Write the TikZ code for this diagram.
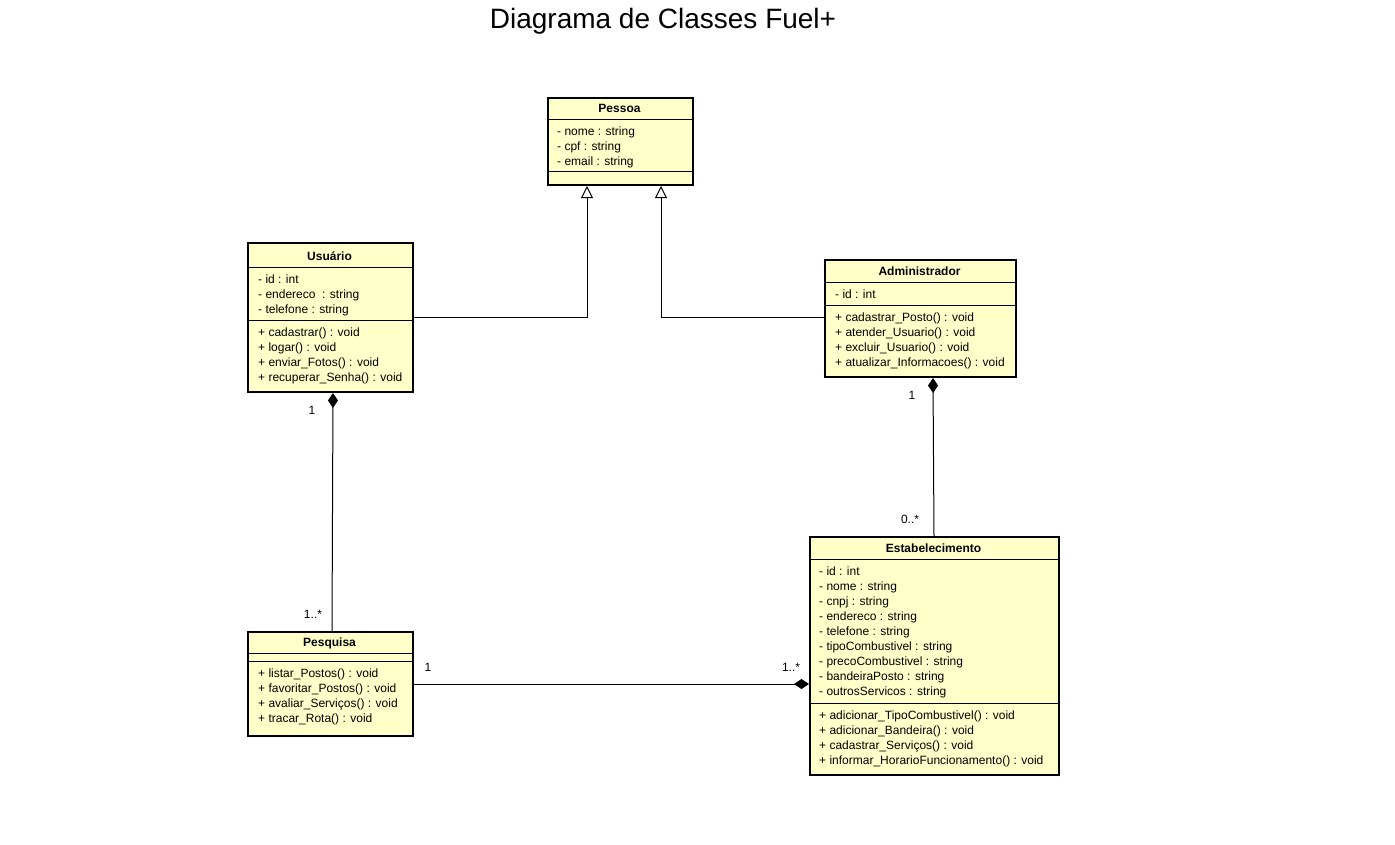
\documentclass[tikz,border=0pt]{standalone}
\usepackage{fontspec}
\setmainfont{Liberation Sans}
\usetikzlibrary{arrows.meta}
\definecolor{umlfill}{HTML}{FFFFCA}
\newcommand\umllines[4]{%
  \foreach [count=\i] \t in {#4} \node[attr] (#1\i) at (#2,{#3+15.1*(\i-1)}) {\t};}
\begin{document}
\begin{tikzpicture}[x=1pt,y=-1pt,
  umlbox/.style={draw=black, line width=2pt, fill=umlfill, rectangle, anchor=north west, inner sep=0pt},
  attr/.style={anchor=base west, inner sep=0pt, font=\fontsize{12}{14}\selectfont},
  ttl/.style={anchor=base, inner sep=0pt, font=\fontsize{12}{14}\selectfont\bfseries},
  sepline/.style={line width=1pt},
  conn/.style={line width=1pt},
  gen/.style={conn, -{Triangle[open, length=12pt, width=12pt, line width=1pt]}},
  comp/.style={conn, {Diamond[length=15pt, width=10pt]}-},
  mult/.style={font=\fontsize{12}{14}\selectfont, inner sep=0pt}]
\useasboundingbox (0,0) rectangle (1395,844);

\node[anchor=base, inner sep=0pt, font=\fontsize{28}{32}\selectfont] (title) at (663,28) {Diagrama de Classes Fuel+};

% Pessoa
\node[umlbox, minimum width=145pt, minimum height=87pt] (pessoa) at (547,97) {};
\node[ttl] (pessoaT) at (619.5,112) {Pessoa};
\draw[sepline] (547,119) -- (692,119);
\draw[sepline] (547,171) -- (692,171);
\umllines{pa}{557}{135}{- nome : string,- cpf : string,- email : string}

% Usuario
\node[umlbox, minimum width=165pt, minimum height=149pt] (usuario) at (247,242) {};
\node[ttl] (usuarioT) at (329.5,260) {Usuário};
\draw[sepline] (247,267) -- (412,267);
\draw[sepline] (247,320) -- (412,320);
\umllines{ua}{258}{283}{- id : int,- endereco~ : string,- telefone : string}
\umllines{um}{258}{336}{+ cadastrar() : void,+ logar() : void,+ enviar\_Fotos() : void,+ recuperar\_Senha() : void}

% Administrador
\node[umlbox, minimum width=191pt, minimum height=117pt] (admin) at (824,259) {};
\node[ttl] (adminT) at (919.5,275) {Administrador};
\draw[sepline] (824,282) -- (1015,282);
\draw[sepline] (824,305) -- (1015,305);
\umllines{aa}{835}{298}{- id : int}
\umllines{am}{835}{321}{+ cadastrar\_Posto() : void,+ atender\_Usuario() : void,+ excluir\_Usuario() : void,+ atualizar\_Informacoes() : void}

% Estabelecimento
\node[umlbox, minimum width=249pt, minimum height=238pt] (estab) at (809,536) {};
\node[ttl] (estabT) at (933.5,552) {Estabelecimento};
\draw[sepline] (809,559) -- (1058,559);
\draw[sepline] (809,703) -- (1058,703);
\umllines{ea}{819}{575}{- id : int,- nome : string,- cnpj : string,- endereco : string,- telefone : string,- tipoCombustivel : string,- precoCombustivel : string,- bandeiraPosto : string,- outrosServicos : string}
\umllines{em}{819}{719}{+ adicionar\_TipoCombustivel() : void,+ adicionar\_Bandeira() : void,+ cadastrar\_Serviços() : void,+ informar\_HorarioFuncionamento() : void}

% Pesquisa
\node[umlbox, minimum width=165pt, minimum height=104pt] (pesquisa) at (247,631) {};
\node[ttl] (pesquisaT) at (329.5,646) {Pesquisa};
\draw[sepline] (247,653) -- (412,653);
\draw[sepline] (247,661) -- (412,661);
\umllines{pm}{258}{677}{+ listar\_Postos() : void,+ favoritar\_Postos() : void,+ avaliar\_Serviços() : void,+ tracar\_Rota() : void}

% Generalizations
\draw[gen] (usuario.east |- 0,317) -| ([xshift=-33.5pt]pessoa.south);
\draw[gen] (admin.west |- 0,317) -| ([xshift=40.5pt]pessoa.south);

% Compositions
\draw[comp] ([xshift=2.5pt]usuario.south) -- ([xshift=1.5pt]pesquisa.north);
\draw[comp] ([xshift=12.5pt]admin.south) -- ([xshift=-0.5pt]estab.north);
\draw[comp] (estab.west |- 0,684) -- (pesquisa.east |- 0,684);

% Multiplicities
\node[mult] (m1) at (312,410) {1};
\node[mult] (m2) at (313,614) {1..*};
\node[mult] (m3) at (912,395) {1};
\node[mult] (m4) at (910,519) {0..*};
\node[mult] (m5) at (428,667) {1};
\node[mult] (m6) at (791,667) {1..*};
\end{tikzpicture}
\end{document}
